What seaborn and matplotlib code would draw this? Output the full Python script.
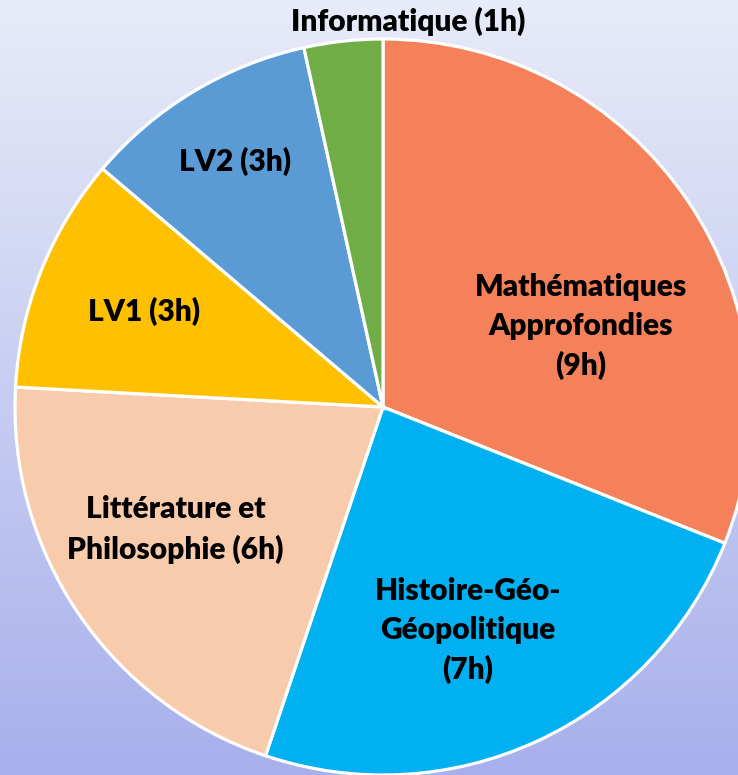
import numpy as np
import matplotlib
matplotlib.use("Agg")
import matplotlib.pyplot as plt
import seaborn as sns
from matplotlib.colors import LinearSegmentedColormap

# data
subjects = ["Mathématiques\nApprofondies\n(9h)", "Histoire-Géo-\nGéopolitique\n(7h)",
            "Littérature et\nPhilosophie (6h)", "LV1 (3h)", "LV2 (3h)", "Informatique (1h)"]
hours = [9, 7, 6, 3, 3, 1]
colors = ["#F4815A", "#00B0F0", "#F8CBAD", "#FFC000", "#5B9BD5", "#70AD47"]

# label layout: (fraction of radius, angle offset in degrees from wedge middle)
label_layout = [(0.58, -12), (0.65, -4), (0.655, -3.5), (0.70, 0), (0.78, 0), (1.05, -10)]

sns.set_theme(style="white")
plt.rcParams["font.family"] = ["Lato", "DejaVu Sans"]

W, H = 738, 775
fig = plt.figure(figsize=(W / 100, H / 100), dpi=100)
ax = fig.add_axes([0, 0, 1, 1])

# background gradient
bg = LinearSegmentedColormap.from_list("bg", ["#A7B0EC", "#E8EBF8"])
grad = np.linspace(0, 1, 256).reshape(-1, 1)
ax.imshow(grad, cmap=bg, aspect="auto", extent=[0, W, 0, H], origin="lower", zorder=0)

cx, cy, r = 383, H - 407, 368
wedges, texts = ax.pie(hours, colors=colors, startangle=90, counterclock=False,
                       center=(cx, cy), radius=r, frame=True, labels=subjects,
                       labeldistance=0.6,
                       wedgeprops=dict(edgecolor="white", linewidth=2.3, zorder=2),
                       textprops=dict(fontsize=21.5, fontweight="heavy", color="black",
                                      ha="center", va="center", linespacing=1.48))

for w, t, (frac, off) in zip(wedges, texts, label_layout):
    ang = np.deg2rad((w.theta1 + w.theta2) / 2 + off)
    t.set_position((cx + frac * r * np.cos(ang), cy + frac * r * np.sin(ang)))
    t.set_ha("center")
    t.set_va("center")
    t.set_zorder(3)
    t.set_clip_on(False)

ax.set_xlim(0, W)
ax.set_ylim(0, H)
ax.set_aspect("equal")
ax.axis("off")

fig.savefig("out.png", dpi=100)
